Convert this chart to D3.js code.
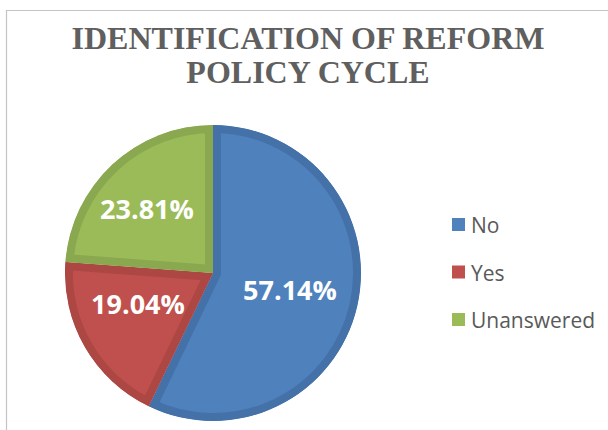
<!DOCTYPE html>
<html><head><meta charset="utf-8">
<script src="https://cdn.jsdelivr.net/npm/d3@7"></script>
<style>html,body{margin:0;padding:0;background:#fff;}svg{display:block;}</style>
</head><body>
<script>
const categories = ["No", "Yes", "Unanswered"];
const values = [57.14, 19.04, 23.81];
const labels = ["57.14%", "19.04%", "23.81%"];
const fills = ["#4F81BD", "#C0504D", "#9BBB59"];
const strokes = ["#4571A9", "#AC4744", "#8AA84F"];
const titleLines = ["IDENTIFICATION OF REFORM", "POLICY CYCLE"];

const W = 608, H = 430;
const svg = d3.select("body").append("svg").attr("width", W).attr("height", H);

// chart area border
svg.append("path").attr("d", `M6.5,${H} L6.5,10.5 L${W},10.5`)
  .attr("fill", "none").attr("stroke", "#c4c4c4").attr("stroke-width", 1.2);

// title
svg.append("text").attr("x", 308).attr("y", 0)
  .attr("font-family", "'Liberation Serif', 'Times New Roman', serif")
  .attr("font-weight", "bold").attr("font-size", 32).attr("fill", "#5f5f5f")
  .attr("text-anchor", "middle")
  .selectAll("tspan").data(titleLines).join("tspan")
  .attr("x", 308).attr("y", (d, i) => 49 + i * 34).text(d => d);

// pie
const cx = 213, cy = 273, r = 148;
const pie = d3.pie().sort(null).value(d => d)(values);
const arc = d3.arc().innerRadius(0).outerRadius(r);
const defs = svg.append("defs");
defs.selectAll("clipPath").data(pie).join("clipPath")
  .attr("id", (d, i) => "clip" + i)
  .append("path").attr("d", arc);
const g = svg.append("g").attr("transform", `translate(${cx},${cy})`);
g.selectAll("path.slice").data(pie).join("path").attr("class", "slice")
  .attr("d", arc).attr("fill", (d, i) => fills[i])
  .attr("stroke", (d, i) => strokes[i]).attr("stroke-width", 16)
  .attr("stroke-linejoin", "miter")
  .attr("clip-path", (d, i) => `url(#clip${i})`);

const labelPos = [[77, 16], [-75, 30], [-66, -65]];
g.selectAll("text.lbl").data(pie).join("text").attr("class", "lbl")
  .attr("x", (d, i) => labelPos[i][0]).attr("y", (d, i) => labelPos[i][1])
  .attr("text-anchor", "middle").attr("dominant-baseline", "central")
  .attr("font-family", "'Open Sans', 'DejaVu Sans', sans-serif")
  .attr("font-weight", "bold").attr("font-size", 27).attr("fill", "#fff")
  .text((d, i) => labels[i]);

// legend
const ly = d3.scalePoint().domain(categories).range([225, 320]);
const leg = svg.append("g");
leg.selectAll("rect").data(categories).join("rect")
  .attr("x", 452).attr("y", d => ly(d) - 7).attr("width", 13).attr("height", 13)
  .attr("fill", (d, i) => fills[i]);
leg.selectAll("text").data(categories).join("text")
  .attr("x", 471).attr("y", d => ly(d)).attr("dominant-baseline", "central")
  .attr("font-family", "'Open Sans', 'DejaVu Sans', sans-serif")
  .attr("font-size", 21).attr("fill", "#595959").text(d => d);
</script>
</body></html>
